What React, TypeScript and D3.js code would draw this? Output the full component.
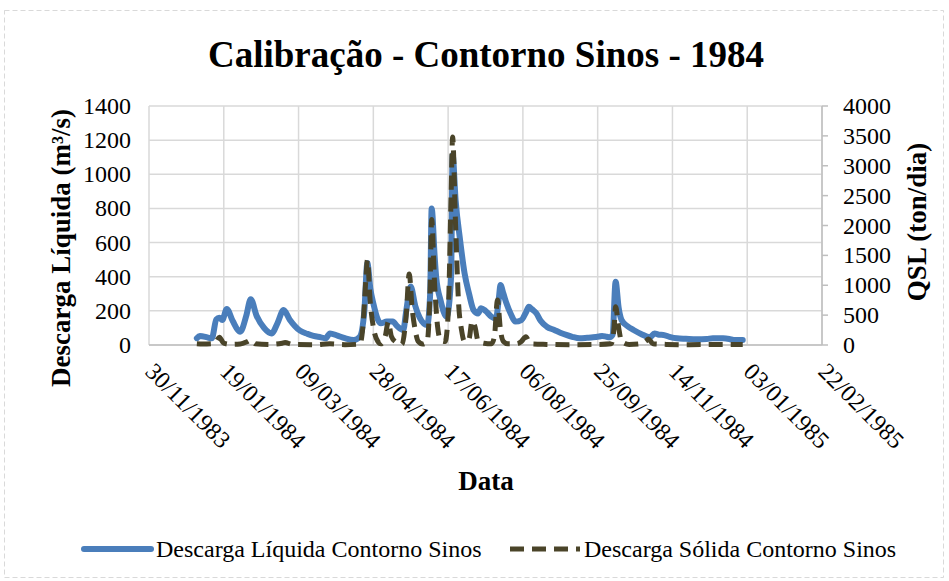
import React from "react";
import * as d3 from "d3";

// ---- data (day of year 1984, value) ----
const liquidDays = [1, 3, 8, 11, 14, 16, 18, 21, 25, 30, 34, 37, 41, 46, 51, 55, 59, 63, 70, 75, 79, 84, 87, 90, 95, 100, 106, 110, 113, 115, 117, 119, 122, 124, 128, 132, 135, 139, 141, 144, 147, 150, 155, 157, 158, 160, 161, 164, 168, 171, 172, 174, 177, 180, 183, 186, 189, 191, 194, 198, 201, 203, 204, 206, 208, 211, 214, 218, 221, 223, 225, 228, 231, 235, 240, 244, 248, 252, 257, 262, 266, 270, 272, 275, 277, 279, 281, 283, 285, 289, 293, 298, 304, 307, 310, 313, 317, 322, 328, 335, 342, 346, 349, 353, 357, 360, 366];
const liquidValues = [40, 53, 45, 39, 150, 160, 146, 211, 140, 78, 170, 268, 170, 100, 68, 130, 205, 150, 84, 65, 53, 45, 39, 68, 55, 40, 29, 49, 200, 480, 330, 244, 150, 127, 137, 137, 110, 88, 200, 342, 230, 160, 117, 300, 800, 520, 400, 260, 166, 400, 1113, 850, 615, 420, 300, 205, 185, 215, 200, 166, 156, 280, 351, 300, 244, 180, 137, 146, 190, 224, 210, 186, 140, 107, 88, 72, 59, 48, 39, 42, 45, 50, 53, 48, 45, 60, 371, 220, 146, 110, 88, 65, 45, 68, 60, 59, 48, 39, 36, 33, 35, 40, 39, 39, 35, 29, 29];

const solidDays = [1, 5, 11, 14, 16, 19, 24, 30, 35, 37, 40, 50, 58, 60, 65, 80, 90, 100, 110, 112, 114, 115, 117, 119, 122, 124, 127, 129, 131, 134, 138, 141, 143, 145, 147, 149, 152, 155, 157, 158, 160, 162, 164, 167, 169, 171, 172, 174, 176, 178, 180, 183, 185, 187, 189, 193, 198, 200, 202, 204, 206, 209, 215, 218, 221, 223, 226, 235, 250, 270, 278, 280, 281, 283, 285, 290, 297, 301, 303, 306, 315, 330, 350, 366];
const solidValues = [20, 15, 20, 60, 130, 30, 10, 15, 60, 84, 20, 10, 30, 40, 10, 5, 20, 5, 15, 300, 1100, 1420, 700, 300, 60, 20, 150, 390, 150, 50, 10, 500, 1190, 600, 250, 60, 15, 60, 1000, 2100, 1000, 300, 80, 60, 500, 2500, 3480, 2000, 700, 250, 60, 100, 400, 300, 70, 30, 20, 150, 753, 250, 60, 20, 20, 60, 139, 60, 15, 10, 5, 10, 20, 300, 641, 300, 60, 10, 20, 60, 100, 20, 10, 5, 10, 10];

const xTickLabels = ["30/11/1983", "19/01/1984", "09/03/1984", "28/04/1984", "17/06/1984", "06/08/1984", "25/09/1984", "14/11/1984", "03/01/1985", "22/02/1985"];
const leftTicks = [0, 200, 400, 600, 800, 1000, 1200, 1400];
const rightTicks = [0, 500, 1000, 1500, 2000, 2500, 3000, 3500, 4000];

const title = "Calibração - Contorno Sinos - 1984";
const leftTitle = "Descarga Líquida (m³/s)";
const rightTitle = "QSL (ton/dia)";
const xTitle = "Data";
const seriesNames = ["Descarga Líquida Contorno Sinos", "Descarga Sólida Contorno Sinos"];

const W = 949, H = 581;
const PL = 149, PR = 822, PT = 106, PB = 345;
const FONT = "'Liberation Serif', 'Times New Roman', serif";
const BLUE = "#4a7ebb";
const OLIVE = "#4a4429";
const DASH = "14,8";

const parseLabel = (s: string) => {
  const [d, m, y] = s.split("/").map(Number);
  return new Date(Date.UTC(y, m - 1, d));
};
const dayDate = (d: number) => new Date(Date.UTC(1984, 0, d));

export default function App() {
  const tickDates = xTickLabels.map(parseLabel);
  const x = d3.scaleUtc().domain([tickDates[0], tickDates[tickDates.length - 1]]).range([PL, PR]);
  const yL = d3.scaleLinear().domain([0, 1400]).range([PB, PT]);
  const yR = d3.scaleLinear().domain([0, 4000]).range([PB, PT]);

  const liq = liquidDays.map((d, i) => [dayDate(d), liquidValues[i]] as [Date, number]);
  const sol = solidDays.map((d, i) => [dayDate(d), solidValues[i]] as [Date, number]);

  const lineL = d3.line<[Date, number]>().x(d => x(d[0])).y(d => yL(d[1])).curve(d3.curveMonotoneX);
  const lineR = d3.line<[Date, number]>().x(d => x(d[0])).y(d => yR(d[1])).curve(d3.curveMonotoneX);

  return (
    <div style={{ position: "absolute", left: 0, top: 0 }}>
      <svg width={W} height={H} style={{ display: "block", fontFamily: FONT }}>
        <rect x={0} y={0} width={W} height={H} fill="#fff" />
        <rect x={4.5} y={10.5} width={939} height={567} fill="none" stroke="#d9d9d9" strokeWidth={1} strokeDasharray="5,3" />
        <text x={486} y={67} textAnchor="middle" fontSize={37} fontWeight="bold" fill="#000">{title}</text>

        {/* gridlines */}
        {leftTicks.map(t => (
          <line key={"h" + t} x1={PL} x2={PR} y1={yL(t)} y2={yL(t)} stroke="#d9d9d9" strokeWidth={1.5} />
        ))}
        {tickDates.map((t, i) => (
          <line key={"v" + i} x1={x(t)} x2={x(t)} y1={PT} y2={PB} stroke="#d9d9d9" strokeWidth={1.5} />
        ))}
        {/* axes */}
        <line x1={PL} x2={PR} y1={PB} y2={PB} stroke="#bfbfbf" strokeWidth={1.5} />
        <line x1={PR} x2={PR} y1={PT} y2={PB} stroke="#bfbfbf" strokeWidth={1.5} />
        {rightTicks.map(t => (
          <line key={"rt" + t} x1={PR} x2={PR + 6} y1={yR(t)} y2={yR(t)} stroke="#bfbfbf" strokeWidth={1.5} />
        ))}

        {/* series */}
        <path d={lineL(liq) || ""} fill="none" stroke={BLUE} strokeWidth={6} strokeLinejoin="round" strokeLinecap="round" />
        <path d={lineR(sol) || ""} fill="none" stroke={OLIVE} strokeWidth={5} strokeDasharray={DASH} strokeLinejoin="round" />

        {/* left tick labels */}
        {leftTicks.map(t => (
          <text key={"lt" + t} x={131} y={yL(t) + 8} textAnchor="end" fontSize={24} fill="#000">{t}</text>
        ))}
        {rightTicks.map(t => (
          <text key={"rl" + t} x={843} y={yR(t) + 8} textAnchor="start" fontSize={24} fill="#000">{t}</text>
        ))}
        {/* x tick labels */}
        {tickDates.map((t, i) => (
          <text key={"xl" + i} transform={`translate(${x(t) - 5},${373}) rotate(45)`} textAnchor="start" fontSize={24} fill="#000">{xTickLabels[i]}</text>
        ))}

        <text transform={`translate(70,248) rotate(-90)`} textAnchor="middle" fontSize={27} fontWeight="bold" fill="#000">{leftTitle}</text>
        <text transform={`translate(926,222) rotate(-90)`} textAnchor="middle" fontSize={27} fontWeight="bold" fill="#000">{rightTitle}</text>
        <text x={486} y={490} textAnchor="middle" fontSize={27} fontWeight="bold" fill="#000">{xTitle}</text>

        {/* legend */}
        <line x1={84} x2={151} y1={549} y2={549} stroke={BLUE} strokeWidth={6} strokeLinecap="round" />
        <text x={156} y={557} fontSize={24} fill="#000">{seriesNames[0]}</text>
        <line x1={510} x2={580} y1={549} y2={549} stroke={OLIVE} strokeWidth={5} strokeDasharray={DASH} />
        <text x={584} y={557} fontSize={24} fill="#000">{seriesNames[1]}</text>
      </svg>
    </div>
  );
}
